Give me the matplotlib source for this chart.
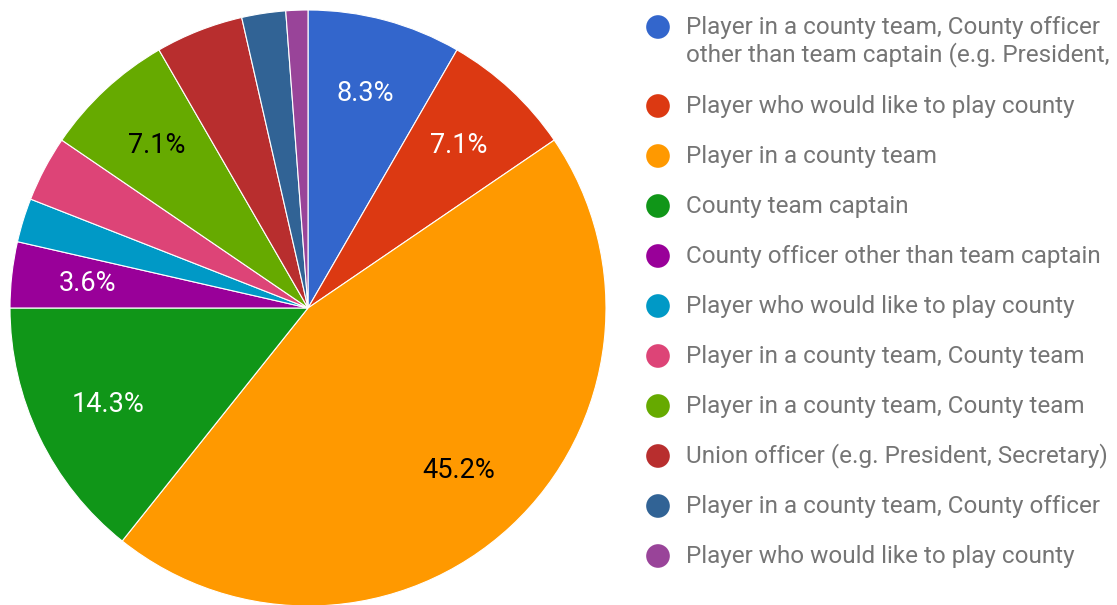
"""Pie chart of respondent roles with a side legend."""

import matplotlib
import matplotlib.pyplot as plt
import numpy as np

matplotlib.use("Agg")

plt.rcParams["font.family"] = ["Roboto", "DejaVu Sans"]

roles = [
    "Player in a county team, County officer\nother than team captain (e.g. President,",
    "Player who would like to play county",
    "Player in a county team",
    "County team captain",
    "County officer other than team captain",
    "Player who would like to play county",
    "Player in a county team, County team",
    "Player in a county team, County team",
    "Union officer (e.g. President, Secretary)",
    "Player in a county team, County officer",
    "Player who would like to play county",
]
counts = [7, 6, 38, 12, 3, 2, 3, 6, 4, 2, 1]
colors = [
    "#3366cc", "#dc3912", "#ff9900", "#109618", "#990099", "#0099c6",
    "#dd4477", "#66aa00", "#b82e2e", "#316395", "#994499",
]
# slices that carry a percentage label, and the label colour used
shown = {0: "white", 1: "white", 2: "black", 3: "white", 4: "white", 7: "black"}

W, H = 1117, 605
fig = plt.figure(figsize=(W / 100, H / 100), dpi=100)

# pie centred at (308, 308) px with radius ~298 px
cx, cy, r = 308, 308, 298
ax = fig.add_axes([(cx - r) / W, (H - cy - r) / H, 2 * r / W, 2 * r / H])
wedges, _ = ax.pie(
    counts,
    colors=colors,
    startangle=90,
    counterclock=False,
    radius=1.0,
    wedgeprops=dict(edgecolor="white", linewidth=0.8),
)
ax.set_xlim(-1, 1)
ax.set_ylim(-1, 1)
ax.set_aspect("equal")
ax.axis("off")

total = sum(counts)
for i, w in enumerate(wedges):
    if i not in shown:
        continue
    mid = np.deg2rad((w.theta1 + w.theta2) / 2)
    d = 0.745
    ax.text(
        d * np.cos(mid), d * np.sin(mid),
        f"{100 * counts[i] / total:.1f}%",
        ha="center", va="center", fontsize=19.5, color=shown[i],
    )

# legend in pixel coordinates
lax = fig.add_axes([630 / W, 0, (W - 630) / W, 1])
lax.set_xlim(630, W)
lax.set_ylim(H, 0)
lax.axis("off")
y = 27
for role, c in zip(roles, colors):
    extra = role.count("\n")
    lax.scatter([658], [y], s=290, color=c, edgecolors="none")
    lax.text(686, y + 14.5 * extra, role, ha="left", va="center",
             fontsize=17.5, color="#757575", linespacing=1.2, clip_on=False)
    y += 29 * extra + 50

fig.savefig("out.png", dpi=100)
